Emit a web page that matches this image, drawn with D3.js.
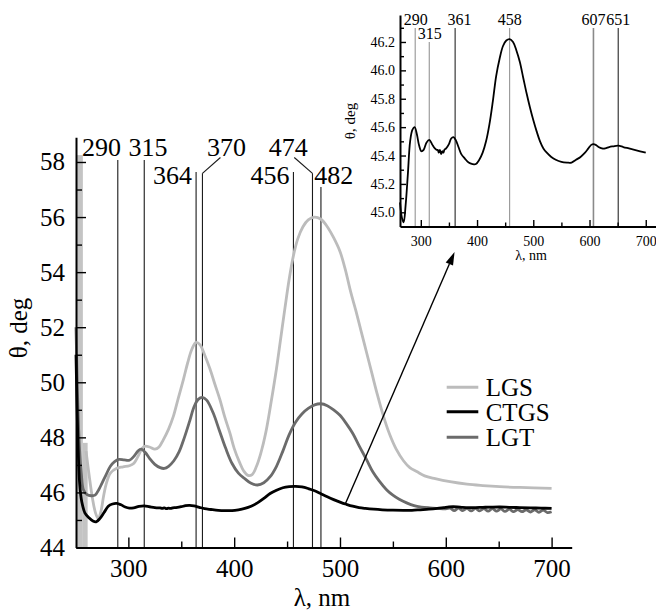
<!DOCTYPE html>
<html><head><meta charset="utf-8">
<script src="https://cdn.jsdelivr.net/npm/d3@7"></script>
<style>
html,body{margin:0;padding:0;background:#fff;font-family:"Liberation Serif";}
svg{display:block;}
svg text{font-family:"Liberation Serif";}
#fontwarm{position:absolute;left:-5000px;top:0;font-family:"Liberation Serif";font-size:20px;}
</style></head><body>
<div id="fontwarm" aria-hidden="true">0123456789 LGS CTGS LGT λ θ nm deg .,</div>
<svg id="chart" width="656" height="610"></svg>
<script>
// ---------- DATA ----------
const ctgsNm  = [250.5,252,254,256,259,263,266.5,269.5,273,277,281,285,289,293,297,301,305,310,315,320,325,328,330,332,334,336,338,340,342,345,350,354,358,362,367,372,378,385,392,398,404,410,416,422,428,434,440,446,452,458,464,470,476,482,488,494,500,506,512,518,524,532,540,550,560,568,576,584,592,598,603,607,611,616,622,628,635,642,651,660,670,680,690,700];
const ctgsDeg = [51.0,48.3,46.3,45.65,45.25,45.07,44.96,44.93,45.05,45.27,45.5,45.58,45.6,45.55,45.47,45.43,45.44,45.49,45.51,45.48,45.45,45.44,45.44,45.42,45.44,45.41,45.43,45.42,45.44,45.45,45.48,45.52,45.53,45.51,45.46,45.41,45.38,45.35,45.34,45.34,45.37,45.42,45.5,45.62,45.78,45.96,46.08,46.17,46.21,46.22,46.2,46.14,46.06,45.95,45.84,45.74,45.65,45.57,45.5,45.45,45.42,45.39,45.37,45.355,45.35,45.35,45.37,45.39,45.42,45.45,45.475,45.48,45.475,45.46,45.45,45.45,45.46,45.465,45.47,45.46,45.45,45.44,45.43,45.42];

const lgtNm  = [250.5,252,253.7,255.5,257.5,261,265,268.5,272,275,279,283,287,291,296,301,305,309,312,316,320,325,330,334,338,343,348,353,358,362,366,370,374,380,386,392,398,404,410,416,422,428,434,440,446,452,458,464,470,476,482,488,494,500,506,512,518,525,531,537,544,550,556,563,570,577,585,592,600,604,608,612,616,620,624,628,632,636,640,644,648,652,656,660,664,668,672,676,680,684,688,692,696,700];
const lgtDeg = [52.0,49.5,47.67,46.7,46.1,45.92,45.88,45.9,46.1,46.33,46.65,46.95,47.12,47.2,47.18,47.17,47.3,47.5,47.57,47.45,47.24,47.02,46.9,46.87,46.95,47.15,47.48,48.0,48.6,49.1,49.38,49.45,49.35,48.9,48.25,47.6,47.05,46.7,46.5,46.33,46.27,46.35,46.57,46.95,47.5,48.1,48.55,48.85,49.05,49.18,49.22,49.15,49.0,48.8,48.5,48.15,47.7,47.2,46.75,46.42,46.1,45.9,45.75,45.62,45.52,45.47,45.44,45.42,45.4,45.43,45.34,45.43,45.34,45.42,45.33,45.42,45.33,45.41,45.32,45.41,45.32,45.40,45.31,45.39,45.30,45.38,45.30,45.37,45.29,45.37,45.28,45.36,45.27,45.3];

const lgsNm  = [260,263,266,269,271.5,274,276.5,279,283,289,295,301,305,309,313,316,320,325,329,333,338,342.5,347,352,356,360,364,368,372,377,382,386.6,391,396,400,405,409,413,417,421,425,430,435,440,444,448,452,456,460,465,470,476,482,488,494,500,505,510,515,520,525,530,535,541,547,553,560,566,572.5,580,590,604,620,635,651,670,700];
const lgsDeg = [47.5,46.6,45.8,45.25,45.05,45.3,45.85,46.3,46.7,46.88,46.93,46.97,47.05,47.3,47.6,47.68,47.65,47.57,47.65,47.91,48.3,48.76,49.4,50.1,50.7,51.2,51.45,51.35,51.0,50.5,49.9,49.36,48.75,48.15,47.6,47.1,46.78,46.62,46.65,46.94,47.4,48.2,49.3,50.5,51.6,52.7,53.75,54.6,55.2,55.65,55.9,56.0,55.92,55.65,55.25,54.75,54.1,53.3,52.6,51.85,51.1,50.35,49.6,48.78,48.1,47.58,47.15,46.9,46.76,46.6,46.5,46.39,46.3,46.25,46.21,46.18,46.15];

// noisy LGS region at the short-wavelength edge (nm / deg bounds)
const lgsNoiseFromNm = [250.5, 257];
const lgsNoiseToNm   = [257, 261.5];
const lgsNoiseTopDeg = [58.25, 47.8];

const seriesNames = ["LGS", "CTGS", "LGT"];

const xMajorTicks = [300, 400, 500, 600, 700];
const xMinorTicks = [350, 450, 550, 650];
const yMajorTicks = [44, 46, 48, 50, 52, 54, 56, 58];
const yMinorTicks = [45, 47, 49, 51, 53, 55, 57];

const mainPeaks       = [290, 315, 364, 370, 456, 474, 482];
const mainPeakLabelNm = [274.5, 318.6, 341.6, 392.8, 433.9, 451.2, 494.2];
const mainPeakRow     = [0, 0, 1, 0, 1, 0, 1];
const mainLeaderNm    = [null, null, null, 387, null, 456.8, null];

const insetXMajor = [300, 400, 500, 600, 700];
const insetXMinor = [350, 450, 550, 650];
const insetYMajor = [45.0, 45.2, 45.4, 45.6, 45.8, 46.0, 46.2];
const insetYMinor = [45.1, 45.3, 45.5, 45.7, 45.9, 46.1, 46.3];
const insetPeaks       = [290, 315, 361, 458, 607, 651];
const insetPeakLabelNm = [291, 316, 369, 458, 607, 651];
const insetPeakRow     = [0, 1, 0, 0, 0, 0];

// arrow: from CTGS in main chart to the inset
const arrowFromNm = 505, arrowFromDeg = 45.58;
const arrowToNm = 360, arrowToDeg = 44.72;

// ---------- DRAW ----------
const FONT = "Liberation Serif";
const svg = d3.select("#chart");
const colors = {LGS: "#bcbcbc", CTGS: "#000000", LGT: "#6b6b6b"};

const x = d3.scaleLinear().domain([250.5, 719]).range([76, 571.7]);
const y = d3.scaleLinear().domain([44, 58.9]).range([547.5, 137.2]);

const zip = (a, b) => a.map((v, i) => [v, b[i]]);
const line = d3.line().x(d => x(d[0])).y(d => y(d[1])).curve(d3.curveCatmullRom.alpha(0.5));

function txt(parent, xx, yy, size, s, anchor) {
  return parent.append("text").attr("x", xx).attr("y", yy)
    .attr("font-family", FONT).style("font-family", FONT)
    .attr("font-size", size).attr("text-anchor", anchor || "start").attr("fill", "#000").text(s);
}

// noise band
svg.append("g").selectAll("rect").data(lgsNoiseFromNm).join("rect")
  .attr("x", (d) => x(d))
  .attr("width", (d, i) => x(lgsNoiseToNm[i]) - x(d))
  .attr("y", (d, i) => y(lgsNoiseTopDeg[i]))
  .attr("height", (d, i) => y(44) - y(lgsNoiseTopDeg[i]))
  .attr("fill", "#c4c4c4");

// peak marker lines and labels
const rowBase = [156, 184];
const gPk = svg.append("g");
mainPeaks.forEach((p, i) => {
  const px = x(p);
  let top;
  if (mainLeaderNm[i] != null) top = 173.3;
  else if (mainPeakRow[i] === 0) top = 160;
  else top = mainPeakLabelNm[i] > p ? 187 : 172;
  gPk.append("line").attr("x1", px).attr("x2", px).attr("y1", top).attr("y2", y(44))
    .attr("stroke", "#1a1a1a").attr("stroke-width", 1.1);
  if (mainLeaderNm[i] != null) {
    gPk.append("line").attr("x1", x(mainLeaderNm[i])).attr("y1", 157.5).attr("x2", px).attr("y2", top)
      .attr("stroke", "#1a1a1a").attr("stroke-width", 1.1);
  }
  txt(gPk, x(mainPeakLabelNm[i]), rowBase[mainPeakRow[i]], 26, String(p), "middle");
});

// curves
const series = [
  {name: "LGS", data: zip(lgsNm, lgsDeg)},
  {name: "LGT", data: zip(lgtNm, lgtDeg)},
  {name: "CTGS", data: zip(ctgsNm, ctgsDeg)}
];
svg.append("g").selectAll("path").data(series).join("path")
  .attr("d", d => line(d.data)).attr("fill", "none")
  .attr("stroke", d => colors[d.name]).attr("stroke-width", 2.8)
  .attr("stroke-linejoin", "round");

// axes
function styleAxis(g, fs) {
  g.attr("font-family", FONT).style("font-family", FONT);
  g.select(".domain").attr("stroke-width", 2).attr("stroke", "#000");
  g.selectAll(".tick line").attr("stroke-width", 1.4).attr("stroke", "#000");
  g.selectAll(".tick text").attr("font-size", fs).attr("fill", "#000")
    .attr("font-family", FONT).style("font-family", FONT);
}
function minorAxis(axis, tr) {
  const g = svg.append("g").attr("transform", tr).call(axis);
  g.select(".domain").remove();
  g.selectAll(".tick text").remove();
  g.selectAll(".tick line").attr("stroke-width", 1.4).attr("stroke", "#000");
  return g;
}
minorAxis(d3.axisBottom(x).tickValues(xMinorTicks).tickSize(-6), `translate(0,${y(44)})`);
minorAxis(d3.axisLeft(y).tickValues(yMinorTicks).tickSize(-6), `translate(${x(250.5)},0)`);
const gx = svg.append("g").attr("transform", `translate(0,${y(44)})`)
  .call(d3.axisBottom(x).tickValues(xMajorTicks).tickSize(-10).tickSizeOuter(0).tickPadding(12));
styleAxis(gx, 25);
const gy = svg.append("g").attr("transform", `translate(${x(250.5)},0)`)
  .call(d3.axisLeft(y).tickValues(yMajorTicks).tickSize(-10).tickSizeOuter(0).tickPadding(11));
styleAxis(gy, 25);

txt(svg, 322, 606, 25, "λ, nm", "middle");
txt(svg, 0, 0, 25, "θ, deg", "middle").attr("transform", "translate(27,328) rotate(-90)");

// legend
const lgY = [387.3, 411.7, 437.3];
const gLeg = svg.append("g");
seriesNames.forEach((n, i) => {
  gLeg.append("line").attr("x1", 446.7).attr("x2", 478.3).attr("y1", lgY[i]).attr("y2", lgY[i])
    .attr("stroke", colors[n]).attr("stroke-width", 3);
  txt(gLeg, 485.7, lgY[i] + 9, 25, n);
});

// ---------- INSET ----------
const xi = d3.scaleLinear().domain([263, 720]).range([400, 657]);
const yi = d3.scaleLinear().domain([44.9, 46.39]).range([226.5, 15]);
const lineI = d3.line().x(d => xi(d[0])).y(d => yi(d[1])).curve(d3.curveCatmullRom.alpha(0.5));
const gIn = svg.append("g");

const insetGray = new Set([290, 315, 458, 607]);
const rowBaseI = [25, 39.3];
insetPeaks.forEach((p, i) => {
  const px = xi(p);
  const top = insetPeakRow[i] === 0 ? 28 : 42;
  gIn.append("line").attr("x1", px).attr("x2", px).attr("y1", top).attr("y2", yi(44.9))
    .attr("stroke", insetGray.has(p) ? "#8a8a8a" : "#111")
    .attr("stroke-width", p === 607 ? 1.6 : 1);
  txt(gIn, xi(insetPeakLabelNm[i]), rowBaseI[insetPeakRow[i]], 16, String(p), "middle");
});

gIn.append("path").attr("d", lineI(zip(ctgsNm, ctgsDeg).filter(d => d[0] >= 263)))
  .attr("fill", "none").attr("stroke", "#000").attr("stroke-width", 1.8);

minorAxis(d3.axisBottom(xi).tickValues(insetXMinor).tickSize(-4), `translate(0,${yi(44.9)})`);
minorAxis(d3.axisLeft(yi).tickValues(insetYMinor).tickSize(-4), `translate(${xi(263)},0)`);
const gxi = svg.append("g").attr("transform", `translate(0,${yi(44.9)})`)
  .call(d3.axisBottom(xi).tickValues(insetXMajor).tickSize(-6.5).tickSizeOuter(0).tickPadding(9.5));
styleAxis(gxi, 14);
const gyi = svg.append("g").attr("transform", `translate(${xi(263)},0)`)
  .call(d3.axisLeft(yi).tickValues(insetYMajor).tickSize(-6).tickSizeOuter(0).tickPadding(5)
    .tickFormat(d3.format(".1f")));
styleAxis(gyi, 14);

txt(svg, 531, 260, 14, "λ, nm", "middle");
txt(svg, 0, 0, 15, "θ, deg", "middle").attr("transform", "translate(355,121) rotate(-90)");

// arrow (line + head polygon computed from the two scaled end points)
const ax1 = x(arrowFromNm), ay1 = y(arrowFromDeg);
const ax2 = xi(arrowToNm), ay2 = yi(arrowToDeg);
const ang = Math.atan2(ay2 - ay1, ax2 - ax1);
const hl = 13, hw = 4;
const bx = ax2 - hl * Math.cos(ang), by = ay2 - hl * Math.sin(ang);
svg.append("line").attr("x1", ax1).attr("y1", ay1).attr("x2", bx).attr("y2", by)
  .attr("stroke", "#000").attr("stroke-width", 1.4);
svg.append("path")
  .attr("d", `M${ax2},${ay2}L${bx - hw * Math.sin(ang)},${by + hw * Math.cos(ang)}L${bx + hw * Math.sin(ang)},${by - hw * Math.cos(ang)}Z`)
  .attr("fill", "#000");
</script>
</body></html>
